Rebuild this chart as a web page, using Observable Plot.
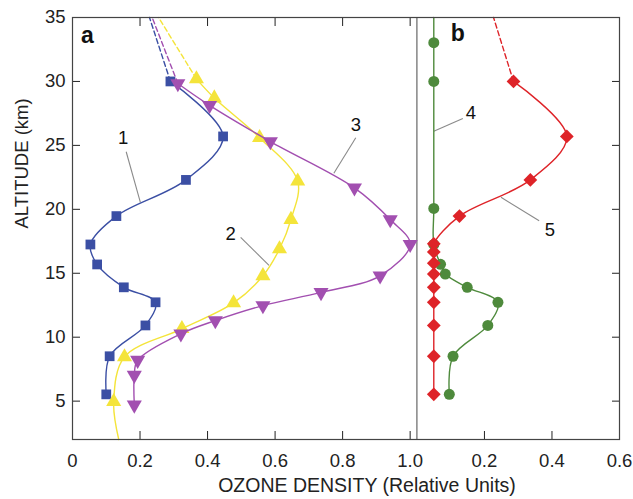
<!DOCTYPE html>
<html><head><meta charset="utf-8">
<script src="https://cdn.jsdelivr.net/npm/d3@7"></script>
<script src="https://cdn.jsdelivr.net/npm/@observablehq/plot@0.6"></script>
<style>body{margin:0;background:#fff}#chart svg{display:block}</style>
</head><body><div id="chart"></div>
<script>
// ---- text ----
const altitudeTitle = "ALTITUDE (km)";
const densityTitle = "OZONE DENSITY (Relative Units)";
const panelNames = ["a", "b"];
const curveNames = ["1", "2", "3", "4", "5"];

// ---- axes ----
const panelOffset = 1.02;          // zero of panel b on the shared axis
const aTicks = [0, 0.2, 0.4, 0.6, 0.8, 1.0];
const bTicks = [0.2, 0.4, 0.6];
const yTicks = [5, 10, 15, 20, 25, 30, 35];

// ---- panel a ----
// curve 1 (blue squares)
const alt1 = [30, 25.7, 22.3, 19.47, 17.25, 15.69, 13.9, 12.73, 10.92, 8.51, 5.53];
const val1 = [0.29, 0.446, 0.336, 0.13, 0.053, 0.073, 0.152, 0.246, 0.216, 0.11, 0.10];
const top1 = [35, 0.228];
// curve 2 (yellow triangles)
const alt2 = [30.2, 28.7, 25.6, 22.2, 19.2, 16.9, 14.8, 12.68, 10.66, 8.46, 4.96];
const val2 = [0.367, 0.42, 0.554, 0.667, 0.647, 0.613, 0.564, 0.477, 0.324, 0.154, 0.122];
const top2 = [35, 0.255];
const bottom2 = [2, 0.137];
// curve 3 (purple down triangles)
const alt3 = [29.84, 28.13, 25.3, 21.68, 19.2, 17.27, 14.8, 13.5, 12.47, 11.3, 10.27, 8.2, 7.03, 4.7];
const val3 = [0.312, 0.406, 0.586, 0.835, 0.941, 1.0, 0.911, 0.736, 0.564, 0.423, 0.321, 0.193, 0.183, 0.183];
const top3 = [35, 0.236];

// ---- panel b ----
// curve 4 (green circles)
const alt4 = [33.03, 30, 20.07, 17.25, 15.7, 14.94, 13.9, 12.73, 10.92, 8.51, 5.53];
const val4 = [0.05, 0.05, 0.05, 0.05, 0.07, 0.084, 0.149, 0.24, 0.21, 0.107, 0.096];
const top4 = [35, 0.05];
// curve 5 (red diamonds)
const alt5 = [30, 25.7, 22.3, 19.47, 17.3, 16.67, 15.79, 14.94, 13.9, 12.73, 10.92, 8.51, 5.53];
const val5 = [0.286, 0.444, 0.336, 0.126, 0.05, 0.05, 0.05, 0.05, 0.05, 0.05, 0.05, 0.05, 0.05];
const top5 = [35, 0.227];

// ---- annotations (shared-axis units, altitude) ----
const panelX = [0.044, 1.141];
const panelAlt = [33.6, 33.7];
const labelX = [0.150, 0.468, 0.839, 1.180, 1.414];
const labelAlt = [25.6, 18.1, 26.6, 27.5, 18.35];
const leadX1 = [0.159, 0.498, 0.839, 1.156, 1.382];
const leadAlt1 = [24.5, 17.8, 25.6, 27.1, 19.1];
const leadX2 = [0.201, 0.582, 0.774, 1.070, 1.269];
const leadAlt2 = [20.55, 15.62, 22.82, 26.1, 20.94];

const colors = {blue: "#3b4fa4", yellow: "#f4e43a", purple: "#a24fb0", green: "#4e8a3c", red: "#de2328"};

const rows = (alts, vals, off = 0) => alts.map((a, i) => ({alt: a, v: vals[i] + off}));
const pt = (p, off = 0) => ({alt: p[0], v: p[1] + off});

const s1 = rows(alt1, val1), s2 = rows(alt2, val2), s3 = rows(alt3, val3);
const s4 = rows(alt4, val4, panelOffset), s5 = rows(alt5, val5, panelOffset);

const curve = "catmull-rom";
const lw = 1.4;
const dash = "5,3";

function series(data, solidExtra, dashTop, color, symbol, r, rotate = 0, off = 0) {
  const solid = solidExtra.before ? [pt(solidExtra.before, off), ...data] : solidExtra.after ? [...data, pt(solidExtra.after, off)] : data;
  const marks = [Plot.line(solid, {x: "v", y: "alt", curve, stroke: color, strokeWidth: lw})];
  if (dashTop) marks.push(Plot.line([data[0], pt(dashTop, off)], {x: "v", y: "alt", stroke: color, strokeWidth: lw, strokeDasharray: dash}));
  marks.push(Plot.dot(data, {x: "v", y: "alt", symbol, r, fill: color, stroke: "none", rotate}));
  return marks;
}

const allTicks = [...aTicks, ...bTicks.map(t => t + panelOffset)];
const fmt = d => d > panelOffset + 0.01 ? (d - panelOffset).toFixed(1) : d === 0 ? "0" : d.toFixed(1);

const labels = curveNames.map((n, i) => ({n, x: labelX[i], alt: labelAlt[i], x1: leadX1[i], a1: leadAlt1[i], x2: leadX2[i], a2: leadAlt2[i]}));
const panels = panelNames.map((n, i) => ({n, x: panelX[i], alt: panelAlt[i]}));

const chart = Plot.plot({
  width: 633, height: 499,
  marginLeft: 72, marginRight: 14, marginTop: 17, marginBottom: 60,
  style: {fontFamily: "'Liberation Sans', Arial, sans-serif", fontSize: "18px", background: "#fff", color: "#222"},
  x: {domain: [0, 1.62]},
  y: {domain: [2, 35]},
  marks: [
    Plot.ruleX([panelOffset], {stroke: "#666", strokeWidth: 1.2}),
    Plot.link(labels, {x1: "x1", y1: "a1", x2: "x2", y2: "a2", stroke: "#8a8a8a", strokeWidth: 1.1}),
    ...series(s1, {}, top1, colors.blue, "square", 5.5),
    ...series(s2, {after: bottom2}, top2, colors.yellow, "triangle", 5.6),
    ...series(s3, {}, top3, colors.purple, "triangle", 5.6, 180),
    ...series(s4, {before: top4}, null, colors.green, "circle", 5.5, 0, panelOffset),
    ...series(s5, {}, top5, colors.red, "diamond2", 6.2, 0, panelOffset),
    Plot.text(labels, {x: "x", y: "alt", text: "n", fill: "#111", fontSize: 18.5}),
    Plot.text(panels, {x: "x", y: "alt", text: "n", fill: "#111", fontSize: 23, fontWeight: "bold"}),
    Plot.axisY(yTicks, {anchor: "left", tickSize: -8, tickPadding: 15, label: null, fill: "#222", fontSize: 18.5}),
    Plot.axisY(yTicks, {anchor: "right", tickSize: -8, tickFormat: () => "", label: null}),
    Plot.axisX(allTicks, {anchor: "bottom", tickSize: -8, tickPadding: 22, tickFormat: fmt, label: null, fill: "#222", fontSize: 18.5}),
    Plot.axisX(aTicks, {anchor: "top", tickSize: -8, tickFormat: () => "", label: null}),
    Plot.text([altitudeTitle], {frameAnchor: "left", rotate: -90, dx: -50, fontSize: 18.5, fill: "#222"}),
    Plot.text([densityTitle], {frameAnchor: "bottom", dx: 21, dy: 52, fontSize: 19.5, fill: "#222"}),
    Plot.frame({stroke: "#444", strokeWidth: 1.2})
  ]
});
document.getElementById("chart").append(chart);
</script></body></html>
